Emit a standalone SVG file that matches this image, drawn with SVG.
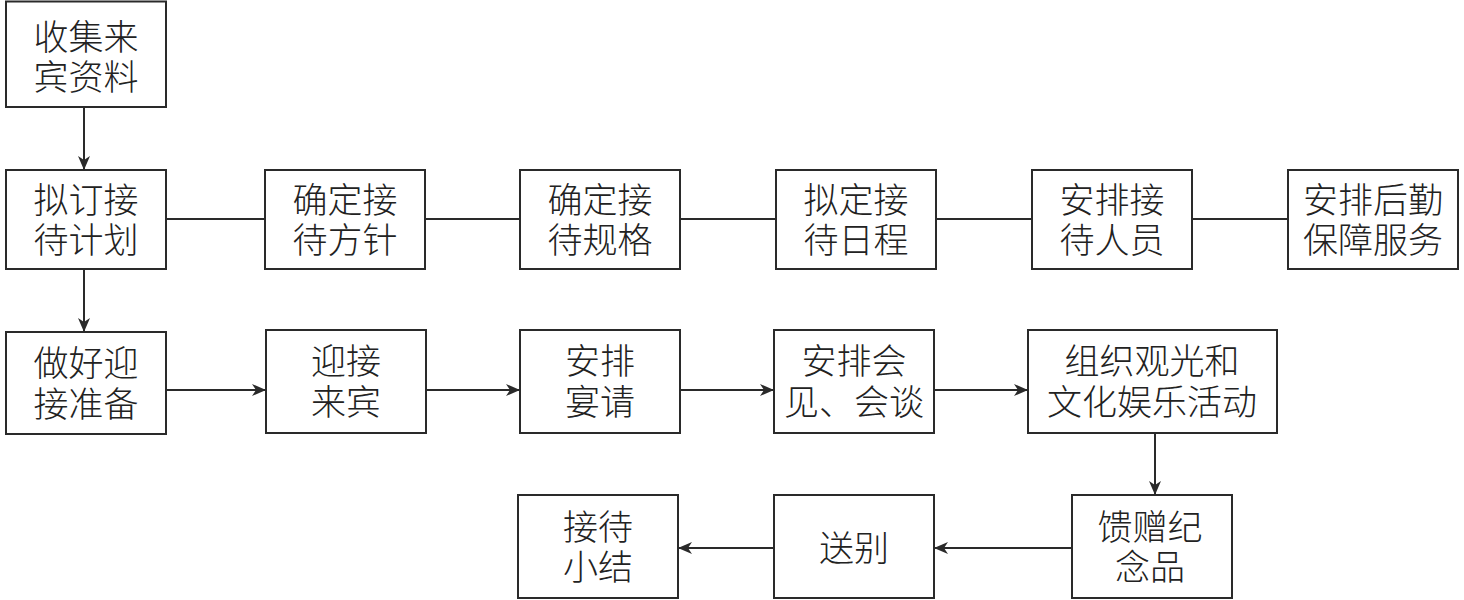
<svg xmlns="http://www.w3.org/2000/svg" width="1464" height="600" viewBox="0 0 1464 600">
<defs>
<style>
.box{fill:#fff;stroke:#2a2a2a;stroke-width:2}
.t{font-family:"Noto Sans CJK SC","Noto Sans",sans-serif;font-size:35px;font-weight:300;fill:#222;text-anchor:middle;dominant-baseline:central}
.ln{stroke:#2a2a2a;stroke-width:2;fill:none}
.ar{stroke:#2a2a2a;stroke-width:2;fill:none;marker-end:url(#ah)}
</style>
<marker id="ah" markerUnits="userSpaceOnUse" markerWidth="14" markerHeight="12" viewBox="0 0 14 12" refX="14" refY="6" orient="auto">
<path d="M0,0 L14,6 L0,12 L4,6 z" fill="#2a2a2a"/>
</marker>
</defs>
<rect width="1464" height="600" fill="#fff"/>
<g id="connectors">
<path class="ar" d="M84,107 V170"/>
<path class="ar" d="M84,269 V332"/>
<path class="ln" d="M166,219 H265"/>
<path class="ln" d="M425,219 H520"/>
<path class="ln" d="M680,219 H776"/>
<path class="ln" d="M936,219 H1032"/>
<path class="ln" d="M1192,219 H1288"/>
<path class="ar" d="M166,390 H266"/>
<path class="ar" d="M426,390 H520"/>
<path class="ar" d="M680,390 H774"/>
<path class="ar" d="M934,390 H1028"/>
<path class="ar" d="M1155,433 V495"/>
<path class="ar" d="M1072,548 H934"/>
<path class="ar" d="M774,548 H678"/>
</g>
<g id="n1"><rect class="box" x="6" y="1.5" width="160" height="105.5"/><text class="t"><tspan x="86" y="34">收集来</tspan><tspan x="86" y="74">宾资料</tspan></text></g>
<g id="n2"><rect class="box" x="6" y="170" width="160" height="99"/><text class="t"><tspan x="86" y="197">拟订接</tspan><tspan x="86" y="237">待计划</tspan></text></g>
<g id="n3"><rect class="box" x="265" y="170" width="160" height="99"/><text class="t"><tspan x="345" y="197">确定接</tspan><tspan x="345" y="237">待方针</tspan></text></g>
<g id="n4"><rect class="box" x="520" y="170" width="160" height="99"/><text class="t"><tspan x="600" y="197">确定接</tspan><tspan x="600" y="237">待规格</tspan></text></g>
<g id="n5"><rect class="box" x="776" y="170" width="160" height="99"/><text class="t"><tspan x="856" y="197">拟定接</tspan><tspan x="856" y="237">待日程</tspan></text></g>
<g id="n6"><rect class="box" x="1032" y="170" width="160" height="99"/><text class="t"><tspan x="1112" y="197">安排接</tspan><tspan x="1112" y="237">待人员</tspan></text></g>
<g id="n7"><rect class="box" x="1288" y="170" width="170" height="99"/><text class="t"><tspan x="1373" y="197">安排后勤</tspan><tspan x="1373" y="237">保障服务</tspan></text></g>
<g id="n8"><rect class="box" x="6" y="332" width="160" height="102"/><text class="t"><tspan x="86" y="360">做好迎</tspan><tspan x="86" y="401">接准备</tspan></text></g>
<g id="n9"><rect class="box" x="266" y="330" width="160" height="103"/><text class="t"><tspan x="346" y="358">迎接</tspan><tspan x="346" y="399">来宾</tspan></text></g>
<g id="n10"><rect class="box" x="520" y="330" width="160" height="103"/><text class="t"><tspan x="600" y="358">安排</tspan><tspan x="600" y="399">宴请</tspan></text></g>
<g id="n11"><rect class="box" x="774" y="330" width="160" height="103"/><text class="t"><tspan x="854" y="358">安排会</tspan><tspan x="854" y="399">见、会谈</tspan></text></g>
<g id="n12"><rect class="box" x="1028" y="330" width="249" height="103"/><text class="t"><tspan x="1152" y="358">组织观光和</tspan><tspan x="1152" y="399">文化娱乐活动</tspan></text></g>
<g id="n13"><rect class="box" x="1072" y="495" width="160" height="103"/><text class="t"><tspan x="1150" y="524">馈赠纪</tspan><tspan x="1150" y="564">念品</tspan></text></g>
<g id="n14"><rect class="box" x="774" y="495" width="160" height="103"/><text class="t" x="854" y="545">送别</text></g>
<g id="n15"><rect class="box" x="518" y="495" width="160" height="103"/><text class="t"><tspan x="598" y="524">接待</tspan><tspan x="598" y="564">小结</tspan></text></g>
</svg>
